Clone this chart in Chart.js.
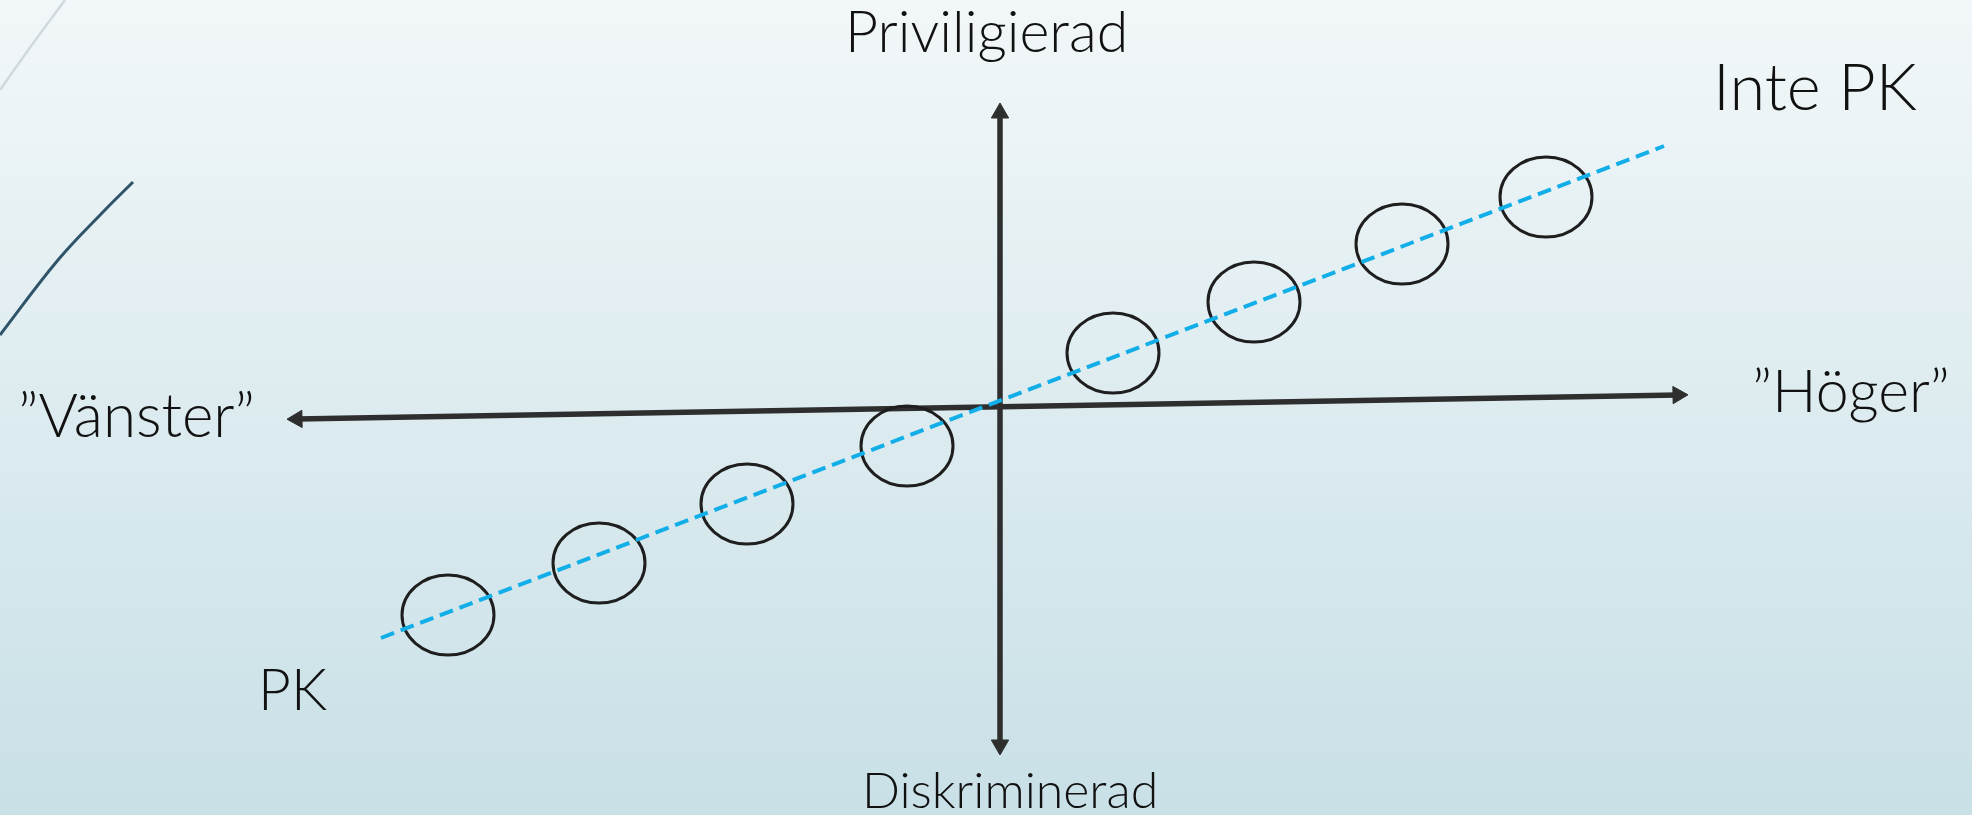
<!DOCTYPE html>
<html>
<head>
<meta charset="utf-8">
<title>PK-axel</title>
<script src="https://cdn.jsdelivr.net/npm/chart.js@4.4.1/dist/chart.umd.min.js"></script>
<style>
  html, body { margin: 0; padding: 0; overflow: hidden; }
  #wrap { width: 1972px; height: 815px; position: relative; }
</style>
</head>
<body>
<div id="wrap"><canvas id="chart"></canvas></div>
<script>
// positions of the circles along the PK line (x = vänster/höger, y = diskriminerad/priviligierad)
var circleX = [-5.52, -4.01, -2.53, -0.93, 1.13, 2.54, 4.02, 5.46];
var circleY = [-2.08, -1.56, -0.97, -0.39, 0.54, 1.05, 1.63, 2.10];

// PK-line end points
var pkLineX = [-6.19, 6.64];
var pkLineY = [-2.31, 2.61];

// axis end points
var horizAxisX = [-7.03, 6.78];
var horizAxisY = [-0.12, 0.12];
var vertAxisX = [0, 0];
var vertAxisY = [2.94, -3.38];

// labels
var labelTexts = ["Priviligierad", "Diskriminerad", "Inte PK", "PK", "\u201DVänster\u201D", "\u201DHöger\u201D"];

function pts(xs, ys) {
  return xs.map(function (x, i) { return { x: x, y: ys[i] }; });
}

// ellipse as point style
var ring = document.createElement('canvas');
ring.width = 100;
ring.height = 88;
var rc = ring.getContext('2d');
rc.strokeStyle = '#1e1e1e';
rc.lineWidth = 3;
rc.beginPath();
rc.ellipse(50, 44, 46, 40, 0, 0, Math.PI * 2);
rc.stroke();

var bgPlugin = {
  id: 'bg',
  beforeDraw: function (chart) {
    var c = chart.ctx;
    var g = c.createLinearGradient(0, 0, 0, chart.height);
    g.addColorStop(0, '#f2f7f9');
    g.addColorStop(1, '#c8e0e6');
    c.save();
    c.fillStyle = g;
    c.fillRect(0, 0, chart.width, chart.height);
    c.restore();
  }
};

// text left edge, right edge (x), baseline (y) in scale units
var labelBoxes = [
  [-1.55, 1.28, 3.55],
  [-1.38, 1.58, -4.01],
  [7.13, 9.17, 2.97],
  [-7.42, -6.73, -3.03],
  [-9.82, -7.45, -0.30],
  [7.52, 9.50, -0.05]
];

var labelPlugin = {
  id: 'labels',
  afterDatasetsDraw: function (chart) {
    var c = chart.ctx;
    var xs = chart.scales.x, ys = chart.scales.y;
    c.save();
    c.fillStyle = '#111111';
    c.textBaseline = 'alphabetic';
    labelTexts.forEach(function (t, i) {
      var b = labelBoxes[i];
      var left = xs.getPixelForValue(b[0]);
      var w = xs.getPixelForValue(b[1]) - left;
      c.font = '300 40px "Lato Light", Lato';
      var size = 40 * w / c.measureText(t).width;
      c.font = '300 ' + size.toFixed(1) + 'px "Lato Light", Lato';
      c.fillText(t, left, ys.getPixelForValue(b[2]));
    });
    c.restore();
  }
};

new Chart(document.getElementById('chart'), {
  type: 'scatter',
  data: {
    datasets: [
      {
        label: 'PK-linje',
        type: 'line',
        data: pts(pkLineX, pkLineY),
        borderColor: '#12aee8',
        borderWidth: 4,
        borderDash: [14, 7],
        pointRadius: 0,
        order: 0
      },
      {
        label: 'Grupper',
        data: pts(circleX, circleY),
        pointStyle: ring,
        order: 1
      },
      {
        label: 'Vänster-höger',
        type: 'line',
        data: pts(horizAxisX, horizAxisY),
        borderColor: '#2e2e2e',
        borderWidth: 5.5,
        pointStyle: 'triangle',
        pointRadius: 10,
        pointRotation: [269, 89],
        pointBackgroundColor: '#2e2e2e',
        pointBorderColor: '#2e2e2e',
        pointBorderWidth: 1,
        order: 2
      },
      {
        label: 'Diskriminerad-priviligierad',
        type: 'line',
        data: pts(vertAxisX, vertAxisY),
        borderColor: '#2e2e2e',
        borderWidth: 5.5,
        pointStyle: 'triangle',
        pointRadius: 10,
        pointRotation: [0, 180],
        pointBackgroundColor: '#2e2e2e',
        pointBorderColor: '#2e2e2e',
        pointBorderWidth: 1,
        order: 2
      },
      {
        label: 'dekor1',
        type: 'line',
        data: [{ x: -10, y: 3.17 }, { x: -9.66, y: 3.65 }, { x: -9.35, y: 4.07 }],
        borderColor: '#cfd9de',
        borderWidth: 2.5,
        tension: 0.4,
        pointRadius: 0,
        order: 3
      },
      {
        label: 'dekor2',
        type: 'line',
        data: [{ x: -10, y: 0.72 }, { x: -9.42, y: 1.47 }, { x: -8.97, y: 1.95 }, { x: -8.67, y: 2.25 }],
        borderColor: '#2f5469',
        borderWidth: 3,
        tension: 0.4,
        pointRadius: 0,
        order: 3
      }
    ]
  },
  options: {
    responsive: true,
    maintainAspectRatio: false,
    animation: false,
    layout: { padding: 0, autoPadding: false },
    plugins: {
      legend: { display: false },
      tooltip: { enabled: false }
    },
    scales: {
      x: { type: 'linear', display: false, min: -10, max: 9.72 },
      y: { type: 'linear', display: false, min: -4.08, max: 4.07 }
    }
  },
  plugins: [bgPlugin, labelPlugin]
});
</script>
</body>
</html>
